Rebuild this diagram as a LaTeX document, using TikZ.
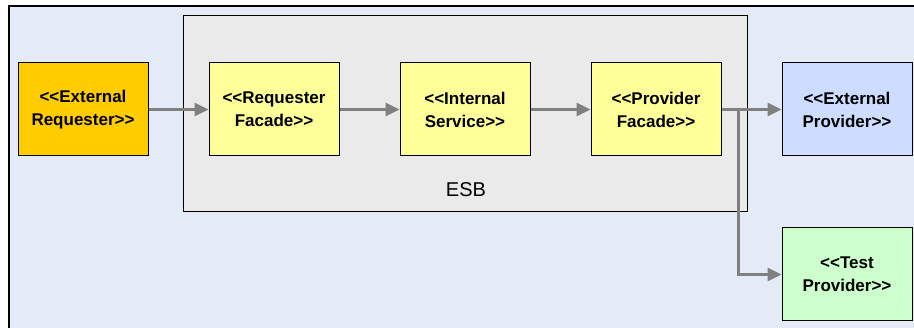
\documentclass[tikz,border=0pt]{standalone}
\usepackage{fontspec}
\setmainfont{Liberation Sans}[Ligatures=ResetAll]
\usetikzlibrary{arrows.meta}
\definecolor{bgblue}{HTML}{E4EBF7}
\definecolor{esbgray}{HTML}{EAEAEA}
\definecolor{reqorange}{HTML}{FFCC00}
\definecolor{facyellow}{HTML}{FFFF99}
\definecolor{provblue}{HTML}{CCDDFF}
\definecolor{testgreen}{HTML}{CCFFCC}
\definecolor{arrowgray}{HTML}{808080}
\tikzset{
  comp/.style={draw=black, line width=1pt, minimum width=130pt, minimum height=93pt,
    inner sep=0pt, align=center, font=\fontsize{17}{23}\selectfont\bfseries},
  flow/.style={draw=arrowgray, line width=3pt, -{Triangle[length=14pt,width=13pt]}}
}
\begin{document}
\begin{tikzpicture}[x=1pt,y=-1pt]
\useasboundingbox (0,0) rectangle (914,328);
\fill[white] (0,0) rectangle (914,328);
\begin{scope}
\clip (0,0) rectangle (914,328);
\draw[fill=bgblue, line width=1.5pt] (9,6) rectangle (930,340);
\end{scope}
\node[draw=black, line width=1pt, fill=esbgray, minimum width=564pt, minimum height=196pt, inner sep=0pt] (esb) at (465,114) {};
\node[font=\fontsize{20}{24}\selectfont, anchor=base] (esblabel) at (466,197) {ESB};
\node[comp, fill=reqorange] (extreq) at (83,109.5) {<{}<External\\Requester>{}>};
\node[comp, fill=facyellow] (reqfac) at (274,109.5) {<{}<Requester\\Facade>{}>};
\node[comp, fill=facyellow] (intsvc) at (465,109.5) {<{}<Internal\\Service>{}>};
\node[comp, fill=facyellow] (provfac) at (656,109.5) {<{}<Provider\\Facade>{}>};
\node[comp, fill=provblue] (extprov) at (847,109.5) {<{}<External\\Provider>{}>};
\node[comp, fill=testgreen] (testprov) at (847,274.5) {<{}<Test\\Provider>{}>};
\coordinate (split) at (738,109.5);
\draw[flow] (extreq.east) -- (reqfac.west);
\draw[flow] (reqfac.east) -- (intsvc.west);
\draw[flow] (intsvc.east) -- (provfac.west);
\draw[flow] (provfac.east) -- (extprov.west);
\draw[flow] (split) |- (testprov.west);
\end{tikzpicture}
\end{document}
